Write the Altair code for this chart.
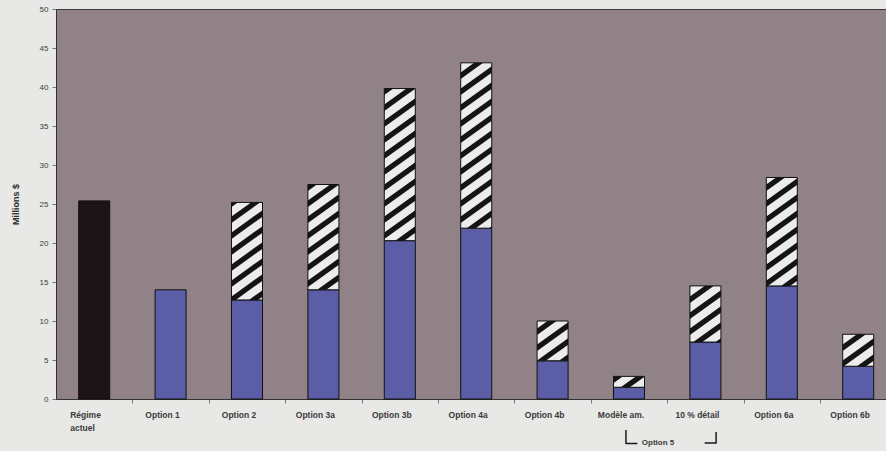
import math
import altair as alt
import pandas as pd

# ---- data ----
categories = ["Régime actuel", "Option 1", "Option 2", "Option 3a", "Option 3b",
              "Option 4a", "Option 4b", "Modèle am.", "10 % détail", "Option 6a", "Option 6b"]
tick_labels = ["Régime\nactuel", "Option 1", "Option 2", "Option 3a", "Option 3b",
               "Option 4a", "Option 4b", "Modèle am.", "10 % détail", "Option 6a", "Option 6b"]
base_values = [25.4, 14.0, 12.7, 14.0, 20.3, 21.9, 4.9, 1.5, 7.3, 14.5, 4.2]
total_values = [25.4, 14.0, 25.2, 27.5, 39.8, 43.1, 10.0, 2.9, 14.5, 28.4, 8.3]
group_label = "Option 5"
y_ticks = list(range(0, 51, 5))

# ---- layout ----
W, H = 830, 390
BAND = 76.4
XMIN = -0.5
XMAX = XMIN + W / BAND
HW = 0.203  # half bar width in band units
FONT = "Liberation Sans"

kx = W / (XMAX - XMIN)
ky = H / 50.0

n = len(categories)
bars = pd.DataFrame({
    "idx": list(range(n)),
    "cat": categories,
    "label": tick_labels,
    "base": base_values,
    "total": total_values,
    "kind": ["actuel"] + ["option"] * (n - 1),
})
bars["x0"] = bars["idx"] - HW
bars["x1"] = bars["idx"] + HW
bars["zero"] = 0.0

hatch = bars[bars["total"] > bars["base"] + 1e-9].copy()

# diagonal stripes for the hatched part (derived from the values above)
S, P, T = 0.72, 16.0, 6.5
rows = []
sid = 0
for _, r in hatch.iterrows():
    pxl = (r["x0"] - XMIN) * kx
    pxr = (r["x1"] - XMIN) * kx
    py0 = r["base"] * ky
    py1 = r["total"] * ky
    w = pxr - pxl
    k0 = math.floor((py0 - S * w - T) / P) - 1
    k1 = math.ceil(py1 / P) + 1
    for k in range(k0, k1 + 1):
        c = k * P
        pts = {pxl, pxr}
        for target in (py0, py1):
            for off in (0.0, T):
                px = pxl + (target - c - off) / S
                if pxl < px < pxr:
                    pts.add(px)
        seg = []
        for px in sorted(pts):
            lo_ = S * (px - pxl) + c
            hi_ = lo_ + T
            lo = min(max(lo_, py0), py1)
            hi = min(max(hi_, py0), py1)
            seg.append((px, lo, hi))
        if max(h - l for _, l, h in seg) > 1e-6:
            for px, lo, hi in seg:
                rows.append({"sid": "s%d" % sid, "pos": float(px / kx + XMIN),
                             "ylo": float(lo / ky), "yhi": float(hi / ky)})
            sid += 1
stripes = pd.DataFrame(rows)

xscale = alt.Scale(domain=[XMIN, XMAX], nice=False, zero=False)
yscale = alt.Scale(domain=[0, 50], nice=False)

xaxis = alt.Axis(values=[i + 0.5 for i in range(n - 1)], labels=False, title=None,
                 grid=False, tickSize=4, tickColor="#777777", domainColor="#333333")
yaxis = alt.Axis(values=y_ticks, title="Millions $", grid=False, tickSize=4,
                 labelOverlap=False, tickColor="#777777", domainColor="#333333",
                 labelFont=FONT, labelFontSize=8, labelColor="#3a3a3a", labelPadding=4,
                 titleFont=FONT, titleFontSize=9, titleFontWeight="bold",
                 titleColor="#2a2a2a", titlePadding=19)


def X(field):
    return alt.X(field, scale=xscale, axis=xaxis, title=None)


def Y(field, **kw):
    return alt.Y(field, scale=yscale, axis=yaxis, title="Millions $", **kw)


base_bars = alt.Chart(bars).mark_bar(stroke="#111111", strokeWidth=1).encode(
    x=X("x0:Q"), x2="x1:Q",
    y=Y("zero:Q"), y2="base:Q",
    color=alt.Color("kind:N", scale=alt.Scale(domain=["actuel", "option"],
                                              range=["#1c1416", "#5b5ea6"]), legend=None),
)

hatch_bg = alt.Chart(hatch).mark_bar(color="#ececec").encode(
    x=X("x0:Q"), x2="x1:Q", y=Y("base:Q"), y2="total:Q",
)

stripe_marks = alt.Chart(stripes).mark_area(color="#141414", opacity=1).encode(
    x=X("pos:Q"), y=Y("ylo:Q", stack=None), y2="yhi:Q", detail="sid:N",
)

hatch_outline = alt.Chart(hatch).mark_bar(fillOpacity=0, stroke="#111111", strokeWidth=1).encode(
    x=X("x0:Q"), x2="x1:Q", y=Y("base:Q"), y2="total:Q",
)

label_style = dict(font=FONT, fontSize=8.5, fontWeight="bold", color="#3a3a3a",
                   baseline="middle", lineBreak="\n", lineHeight=13)

labels_main = alt.Chart(bars[bars["idx"] > 0]).mark_text(align="center", dx=-8, **label_style).encode(
    x=X("idx:Q"), y=alt.value(H + 16), text="label:N",
)
labels_first = alt.Chart(bars[bars["idx"] == 0]).mark_text(align="left", dx=-24, **label_style).encode(
    x=X("idx:Q"), y=alt.value(H + 16), text="label:N",
)

# "Option 5" bracket under Modèle am. / 10 % détail
grp = pd.DataFrame({"x": [6.96], "xt": [7.38], "xr": [8.14], "t": [group_label]})
bl = alt.Chart(grp).mark_rule(color="#1a1a1a", strokeWidth=1.5)
bracket = alt.layer(
    bl.encode(x=X("x:Q"), y=alt.value(H + 31), y2=alt.value(H + 45)),
    bl.encode(x=X("x:Q"), x2=alt.X2("xh:Q"), y=alt.value(H + 44.5)).transform_calculate(xh="datum.x + 0.15"),
    bl.encode(x=X("xr:Q"), y=alt.value(H + 33), y2=alt.value(H + 44.5)),
    bl.encode(x=X("xl2:Q"), x2=alt.X2("xr:Q"), y=alt.value(H + 44)).transform_calculate(xl2="datum.xr - 0.15"),
    alt.Chart(grp).mark_text(font=FONT, fontSize=8, fontWeight="bold", color="#3a3a3a",
                             align="center", baseline="middle").encode(
        x=X("xt:Q"), y=alt.value(H + 44), text="t:N"),
)

chart = alt.layer(
    base_bars, hatch_bg, stripe_marks, hatch_outline, labels_main, labels_first, bracket
).properties(
    width=W, height=H,
    autosize=alt.AutoSizeParams(type="none"),
    padding={"left": 56, "top": 9, "right": 0, "bottom": 52},
    background="#e8e8e6",
).configure_view(
    fill="#908287", stroke="#3a3a3a", strokeWidth=1,
)

chart.save("out.html", embed_options={"renderer": "svg", "actions": False})
